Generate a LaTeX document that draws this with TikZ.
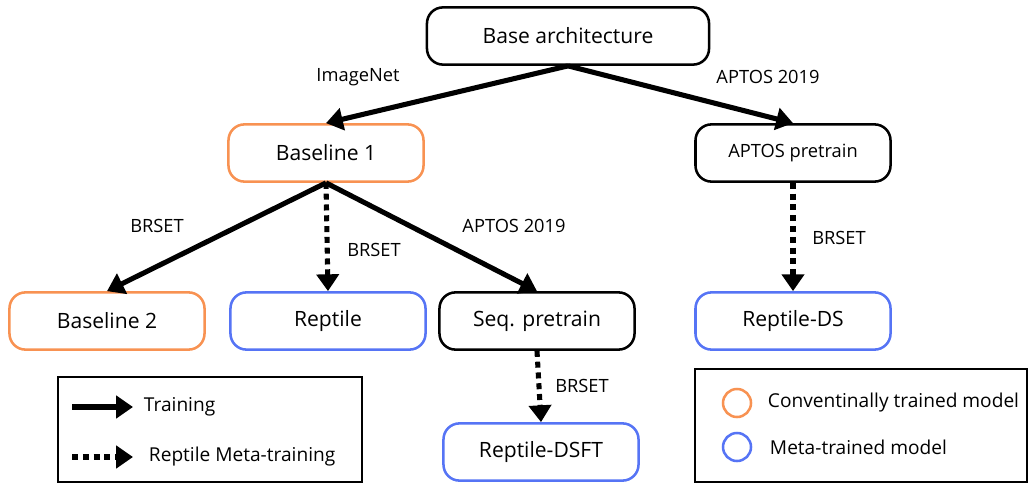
\documentclass[tikz,border=0pt]{standalone}
\usepackage{fontspec}
\setmainfont{Open Sans}
\usetikzlibrary{positioning, arrows.meta}
\definecolor{convorange}{RGB}{248,146,82}
\definecolor{metablue}{RGB}{86,116,245}

\begin{document}
\begin{tikzpicture}[
    x=0.025cm, y=-0.025cm,
    model/.style={
        rectangle,
        rounded corners=0.4cm,
        draw=black,
        line width=1.8pt,
        fill=white,
        minimum width=4.875cm,
        minimum height=1.43cm,
        font=\fontsize{15}{17}\selectfont,
    },
    conv/.style={model, draw=convorange},
    meta/.style={model, draw=metablue},
    lbl/.style={font=\fontsize{13}{15}\selectfont, anchor=center},
    leg/.style={font=\fontsize{13.6}{15}\selectfont, anchor=west},
    train/.style={-{Triangle[length=0.42cm, width=0.55cm]}, line width=3.6pt},
    reptile/.style={train, dash pattern=on 0.15cm off 0.12cm},
    legbox/.style={draw=black, line width=1pt},
    dot/.style={circle, draw, line width=1.8pt, minimum size=0.7cm, inner sep=0pt}
]
\useasboundingbox (0,0) rectangle (1029,484);

% model boxes
\node[model, minimum width=7.05cm] (base) at (568,36) {Base architecture};
\node[conv] (bl1) at (326,153) {Baseline 1};
\node[model, font=\fontsize{13}{15}\selectfont] (aptos) at (793,153) {APTOS pretrain};
\node[conv] (bl2) at (107,321) {Baseline 2};
\node[meta] (rep) at (328,321) {Reptile};
\node[model] (seq) at (537,321) {Seq. pretrain};
\node[meta] (repds) at (793,321) {Reptile-DS};
\node[meta] (repdsft) at (541,452) {Reptile-DSFT};

% dataset labels
\node[lbl] (lImg) at (358,77) {ImageNet};
\node[lbl] (lApt) at (768,77) {APTOS 2019};
\node[lbl] (lBr1) at (157,226) {BRSET};
\node[lbl] (lBr2) at (374,250) {BRSET};
\node[lbl] (lApt2) at (514,226) {APTOS 2019};
\node[lbl] (lBr3) at (839,238) {BRSET};
\node[lbl] (lBr4) at (582,386) {BRSET};

\draw[train] (base.south) -- (bl1.north);
\draw[train] (base.south) -- (aptos.north);
\draw[train] (bl1.south) -- (bl2.north);
\draw[reptile] (bl1.south) -- (rep.north);
\draw[train] (bl1.south) -- (seq.north);
\draw[reptile] (aptos.south) -- (repds.north);
\draw[reptile] (seq.south) -- (repdsft.north);

% legend: arrows
\draw[legbox] (58,377) rectangle (362,482);
\coordinate (tA) at (72,407);
\coordinate (tB) at (133,407);
\coordinate (mA) at (72,457);
\coordinate (mB) at (133,457);
\draw[train] (tA) -- (tB);
\draw[reptile] (mA) -- (mB);
\node[leg] (lTrain) at (139,407) {Training};
\node[leg] (lMeta) at (144,457) {Reptile Meta-training};

% legend: colours
\draw[legbox] (695,369) rectangle (1027,482);
\node[dot, draw=convorange] (cConv) at (737,403) {};
\node[dot, draw=metablue] (cMeta) at (737,447) {};
\node[leg] (lConv) at (763,403) {Conventinally trained model};
\node[leg] (lMt) at (765,447) {Meta-trained model};
\end{tikzpicture}
\end{document}
